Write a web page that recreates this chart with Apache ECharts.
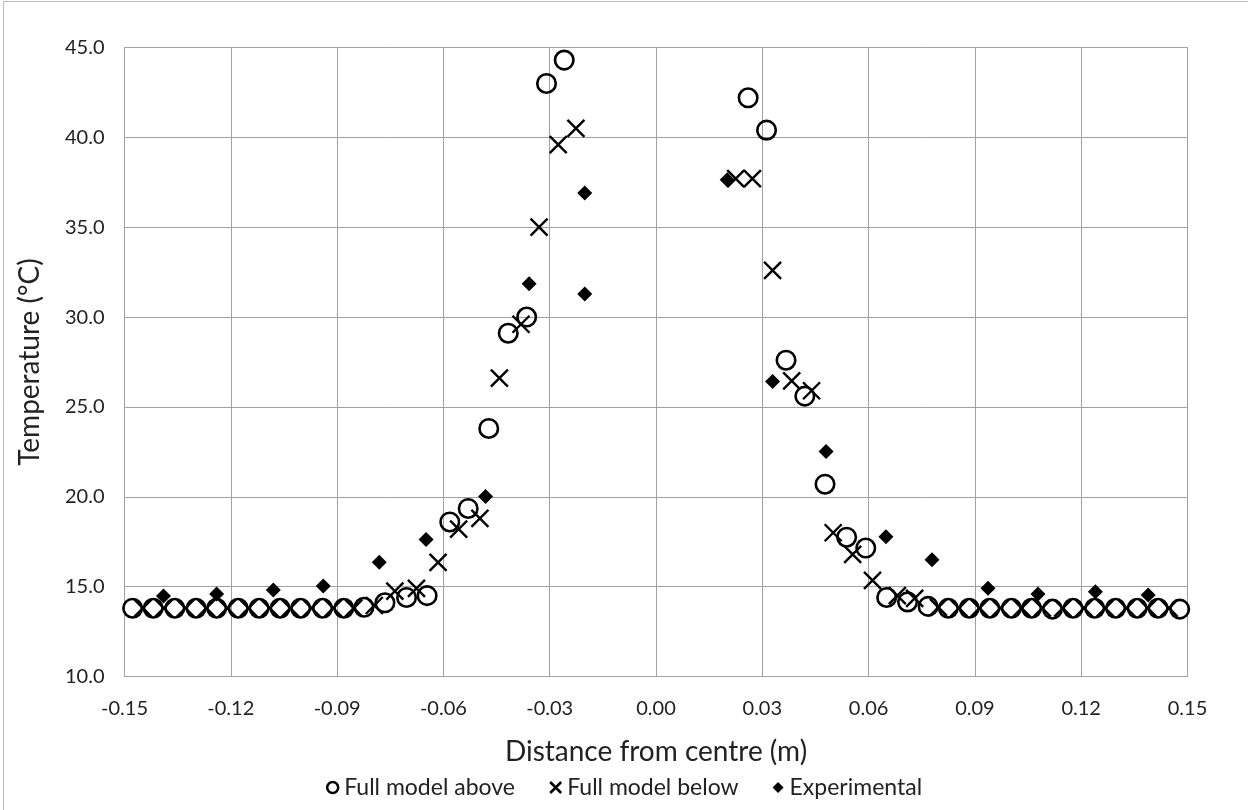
<!DOCTYPE html>
<html>
<head>
<meta charset="utf-8">
<script src="https://cdn.jsdelivr.net/npm/echarts@6/dist/echarts.min.js"></script>
<style>
  html, body { margin: 0; padding: 0; background: #ffffff; }
  #chart { width: 1248px; height: 810px; }
</style>
</head>
<body>
<div id="chart"></div>
<script>
// Radial temperature profiles: two model lines (above / below) and measurements
const seriesNames = ['Full model above', 'Full model below', 'Experimental'];

const aboveX = [-0.1477, -0.1419, -0.1358, -0.1298, -0.1240, -0.1179, -0.1120, -0.1061, -0.1003, -0.0941,
  -0.0881, -0.0824, -0.0765, -0.0704, -0.0646, -0.0582, -0.0530, -0.0472, -0.0417, -0.0365, -0.0309, -0.0259,
  0.0260, 0.0312, 0.0367, 0.0420, 0.0477, 0.0538, 0.0592, 0.0651, 0.0710, 0.0768, 0.0825, 0.0884, 0.0942,
  0.1003, 0.1060, 0.1119, 0.1177, 0.1238, 0.1297, 0.1358, 0.1417, 0.1478];
const aboveY = [13.8, 13.8, 13.8, 13.8, 13.8, 13.8, 13.8, 13.8, 13.8, 13.8,
  13.8, 13.85, 14.1, 14.4, 14.5, 18.6, 19.35, 23.8, 29.1, 30.0, 43.0, 44.3,
  42.2, 40.4, 27.6, 25.6, 20.7, 17.75, 17.15, 14.4, 14.15, 13.9, 13.8, 13.8, 13.8,
  13.8, 13.8, 13.75, 13.8, 13.8, 13.8, 13.8, 13.8, 13.75];

const belowX = [-0.1448, -0.1389, -0.1328, -0.1269, -0.1210, -0.1150, -0.1090, -0.1032, -0.0972, -0.0911,
  -0.0853, -0.0795, -0.0737, -0.0676, -0.0615, -0.0557, -0.0497, -0.0442, -0.0381, -0.0330, -0.0276, -0.0226,
  0.0225, 0.0272, 0.0329, 0.0383, 0.0439, 0.0500, 0.0555, 0.0611, 0.0681, 0.0730, 0.0797, 0.0855, 0.0913,
  0.0972, 0.1032, 0.1090, 0.1148, 0.1208, 0.1268, 0.1328, 0.1388, 0.1448];
const belowY = [13.8, 13.8, 13.8, 13.8, 13.8, 13.8, 13.8, 13.8, 13.8, 13.8,
  13.8, 13.95, 14.75, 14.9, 16.35, 18.2, 18.8, 26.6, 29.6, 35.0, 39.6, 40.5,
  37.7, 37.7, 32.6, 26.45, 25.9, 18.0, 16.8, 15.35, 14.5, 14.35, 13.85, 13.8, 13.8,
  13.8, 13.8, 13.8, 13.8, 13.8, 13.8, 13.8, 13.8, 13.8];

const expX = [-0.1390, -0.1240, -0.1080, -0.0939, -0.0781, -0.0649, -0.0481, -0.0358, -0.0201, -0.0201,
  0.0201, 0.0329, 0.0480, 0.0649, 0.0779, 0.0937, 0.1078, 0.1240, 0.1389];
const expY = [14.48, 14.59, 14.82, 15.04, 16.36, 17.62, 20.01, 31.85, 36.9, 31.28,
  37.64, 26.41, 22.52, 17.77, 16.49, 14.91, 14.59, 14.72, 14.54];

const xTitle = 'Distance from centre (m)';
const yTitle = 'Temperature (°C)';

const pairs = (xs, ys) => xs.map((x, i) => [x, ys[i]]);
const crossPath = 'path://M0,0L10,10M10,0L0,10';
const FONT = 'Lato';

const chart = echarts.init(document.getElementById('chart'), null, { renderer: 'canvas' });

chart.setOption({
  animation: false,
  backgroundColor: '#ffffff',
  textStyle: { fontFamily: FONT, color: '#222' },
  graphic: [{
    type: 'rect',
    shape: { x: 3.5, y: 1.5, width: 1400, height: 1000 },
    style: { fill: 'none', stroke: '#bdbdbd', lineWidth: 1 },
    silent: true
  }],
  grid: { left: 124.5, right: 60.5, top: 47.5, bottom: 133.5, containLabel: false },
  xAxis: {
    type: 'value',
    min: -0.15, max: 0.15, interval: 0.03,
    name: xTitle, nameLocation: 'middle', nameGap: 61,
    nameTextStyle: { fontFamily: FONT, fontSize: 28, color: '#222' },
    axisLine: { show: true, onZero: false, lineStyle: { color: '#a0a0a0', width: 1 } },
    axisTick: { show: false },
    axisLabel: { fontFamily: FONT, fontSize: 20, color: '#222', margin: 22,
      formatter: v => (Math.abs(v) < 1e-9 ? 0 : v).toFixed(2) },
    splitLine: { show: true, lineStyle: { color: '#a0a0a0', width: 1 } }
  },
  yAxis: {
    type: 'value',
    min: 10, max: 45, interval: 5,
    name: yTitle, nameLocation: 'middle', nameGap: 81, nameRotate: 90,
    nameTextStyle: { fontFamily: FONT, fontSize: 28, color: '#222' },
    axisLine: { show: true, lineStyle: { color: '#a0a0a0', width: 1 } },
    axisTick: { show: false },
    axisLabel: { fontFamily: FONT, fontSize: 20, color: '#222', margin: 20,
      formatter: v => v.toFixed(1) },
    splitLine: { show: true, lineStyle: { color: '#a0a0a0', width: 1 } }
  },
  legend: {
    bottom: 6, left: 'center',
    itemGap: 34, itemWidth: 11, itemHeight: 11,
    textStyle: { fontFamily: FONT, fontSize: 23, color: '#222', padding: [0, 0, 0, 1] },
    data: [
      { name: seriesNames[0], icon: 'circle',
        itemStyle: { color: 'transparent', borderColor: '#000', borderWidth: 2.5 } },
      { name: seriesNames[1], icon: crossPath,
        itemStyle: { color: 'transparent', borderColor: '#000', borderWidth: 2.5 } },
      { name: seriesNames[2], icon: 'diamond', itemHeight: 8, itemWidth: 8,
        itemStyle: { color: '#000', borderWidth: 0 } }
    ]
  },
  series: [
    {
      name: seriesNames[0], type: 'scatter', symbol: 'circle', symbolSize: 18.5,
      itemStyle: { color: 'transparent', borderColor: '#000', borderWidth: 2.6, opacity: 1 },
      data: pairs(aboveX, aboveY), z: 3
    },
    {
      name: seriesNames[1], type: 'scatter', symbol: crossPath, symbolSize: 17,
      itemStyle: { color: 'transparent', borderColor: '#000', borderWidth: 2.4, opacity: 1 },
      data: pairs(belowX, belowY), z: 4
    },
    {
      name: seriesNames[2], type: 'scatter', symbol: 'diamond', symbolSize: 15,
      itemStyle: { color: '#000', borderWidth: 0, opacity: 1 },
      data: pairs(expX, expY), z: 5
    }
  ]
});
</script>
</body>
</html>
